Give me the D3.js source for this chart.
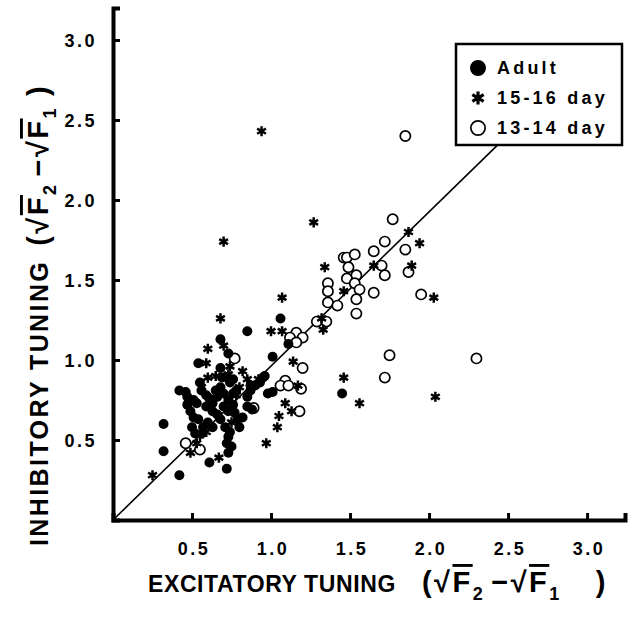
<!DOCTYPE html>
<html>
<head>
<meta charset="utf-8">
<script src="https://cdn.jsdelivr.net/npm/d3@7"></script>
<style>
  body { margin: 0; background: #fff; }
  text { font-family: "Liberation Sans", Arial, sans-serif; fill: #000; }
</style>
</head>
<body>
<div id="chart"></div>
<script>
// tick values
var xTicks = [0.5, 1.0, 1.5, 2.0, 2.5, 3.0];
var yTicks = [0.5, 1.0, 1.5, 2.0, 2.5, 3.0];

// diagonal reference line (data units)
var diagonal = [[0, 0], [2.43, 2.34]];

// Adult  [excitatory, inhibitory]
var adult = [
  [1.06,1.26],[0.85,1.18],[0.68,1.13],[0.73,1.04],[1.01,1.02],[1.11,1.10],[0.54,0.98],
  [0.68,0.95],[0.95,0.89],[0.93,0.86],[0.98,0.79],[1.01,0.80],[1.45,0.79],[0.32,0.60],
  [0.32,0.43],[0.61,0.36],[0.72,0.32],[0.42,0.28],[0.50,0.58],[0.52,0.54],[0.46,0.80],
  [0.47,0.77],[0.47,0.72],[0.49,0.68],[0.51,0.64],[0.54,0.63],[0.55,0.86],[0.56,0.81],
  [0.59,0.78],[0.61,0.76],[0.63,0.73],[0.59,0.71],[0.63,0.68],[0.66,0.66],[0.65,0.81],
  [0.68,0.83],[0.70,0.79],[0.66,0.77],[0.69,0.89],[0.72,0.89],[0.76,0.88],[0.74,0.86],
  [0.70,0.71],[0.73,0.75],[0.76,0.72],[0.73,0.68],[0.68,0.63],[0.71,0.58],[0.74,0.55],
  [0.73,0.52],[0.72,0.48],[0.76,0.79],[0.78,0.81],[0.77,0.67],[0.79,0.63],[0.80,0.58],
  [0.57,0.58],[0.60,0.61],[0.63,0.58],[0.75,0.46],[0.73,0.42],[0.85,0.77],[0.87,0.81],
  [0.85,0.71],[0.82,0.64],[0.90,0.84],[0.42,0.81],[0.96,0.90],[0.87,0.84],[0.88,0.69],
  [0.53,0.73],[0.51,0.75]
];

// 15-16 day
var day1516 = [
  [0.94,2.43],[0.70,1.74],[1.27,1.86],[1.87,1.80],[1.94,1.73],[1.89,1.59],[2.03,1.39],
  [1.34,1.58],[1.65,1.59],[1.46,1.43],[1.07,1.39],[1.32,1.26],[1.33,1.19],[1.00,1.18],
  [1.07,1.18],[0.68,1.26],[0.70,1.09],[0.60,1.07],[1.14,0.99],[0.59,0.98],[0.74,0.96],
  [0.65,0.90],[0.73,0.91],[0.82,0.93],[0.85,0.88],[0.92,0.88],[1.46,0.89],[1.56,0.73],
  [2.04,0.77],[1.17,0.84],[1.09,0.73],[1.13,0.68],[1.05,0.65],[1.04,0.58],[0.97,0.48],
  [0.25,0.28],[0.49,0.42],[0.53,0.48],[0.67,0.39],[0.56,0.54],[0.56,0.83],[0.60,0.89],
  [0.80,0.83],[0.78,0.78],[0.75,0.61],[0.55,0.53],[0.59,0.55]
];

// 13-14 day
var day1314 = [
  [1.85,2.40],[1.77,1.88],[1.85,1.69],[1.87,1.55],[1.95,1.41],[1.72,1.74],[1.65,1.68],
  [1.46,1.64],[1.48,1.64],[1.53,1.66],[1.49,1.58],[1.70,1.59],[1.72,1.53],[1.54,1.53],
  [1.48,1.51],[1.53,1.48],[1.56,1.44],[1.36,1.48],[1.36,1.43],[1.65,1.42],[1.54,1.38],
  [1.36,1.36],[1.42,1.34],[1.54,1.29],[1.29,1.24],[1.35,1.24],[1.16,1.17],[1.12,1.14],
  [1.20,1.14],[1.16,1.11],[0.77,1.01],[1.20,0.95],[1.75,1.03],[1.72,0.89],[2.30,1.01],
  [1.09,0.87],[1.06,0.84],[1.11,0.84],[1.19,0.82],[1.18,0.68],[0.89,0.70],[0.46,0.48],
  [0.55,0.44]
];

var legendItems = ["Adult", "15-16 day", "13-14 day"];

var width = 636, height = 621;

var svg = d3.select("#chart").append("svg")
  .attr("width", width)
  .attr("height", height);

var x = d3.scaleLinear().domain([0, 3.24]).range([113, 625]);
var y = d3.scaleLinear().domain([0, 3.2]).range([520, 8]);

// axes
var xAxis = svg.append("g")
  .attr("transform", "translate(0," + y(0) + ")")
  .call(d3.axisTop(x).tickValues(xTicks).tickSize(7).tickFormat(""));
var yAxis = svg.append("g")
  .attr("transform", "translate(" + x(0) + ",0)")
  .call(d3.axisRight(y).tickValues(yTicks).tickSize(7).tickFormat(""));

[xAxis, yAxis].forEach(function(a) {
  a.select(".domain").attr("stroke", "#000").attr("stroke-width", 4);
  a.selectAll(".tick line").attr("stroke", "#000").attr("stroke-width", 3);
});

// tick labels
svg.append("g").selectAll("text")
  .data(xTicks)
  .join("text")
  .attr("x", function(d) { return x(d) + 2; })
  .attr("y", 555)
  .attr("text-anchor", "middle")
  .attr("font-size", 18)
  .attr("font-weight", "bold")
  .attr("letter-spacing", 2.5)
  .text(function(d) { return d.toFixed(1); });

svg.append("g").selectAll("text")
  .data(yTicks)
  .join("text")
  .attr("x", 97)
  .attr("y", function(d) { return y(d) + 7; })
  .attr("text-anchor", "end")
  .attr("font-size", 18)
  .attr("font-weight", "bold")
  .attr("letter-spacing", 2.5)
  .text(function(d) { return d.toFixed(1); });

// identity line
svg.append("path")
  .datum(diagonal)
  .attr("fill", "none")
  .attr("stroke", "#000")
  .attr("stroke-width", 1.6)
  .attr("d", d3.line().x(function(d) { return x(d[0]); }).y(function(d) { return y(d[1]); }));

// points
var circleFilled = d3.symbol().type(d3.symbolCircle).size(78);
var circleOpen = d3.symbol().type(d3.symbolCircle).size(82);
var star = d3.symbol().type(d3.symbolAsterisk).size(72);

svg.append("g").selectAll("path")
  .data(day1314)
  .join("path")
  .attr("transform", function(d) { return "translate(" + x(d[0]) + "," + y(d[1]) + ")"; })
  .attr("d", circleOpen)
  .attr("fill", "#fff")
  .attr("stroke", "#000")
  .attr("stroke-width", 1.7);

svg.append("g").selectAll("path")
  .data(adult)
  .join("path")
  .attr("transform", function(d) { return "translate(" + x(d[0]) + "," + y(d[1]) + ")"; })
  .attr("d", circleFilled)
  .attr("fill", "#000");

svg.append("g").selectAll("path")
  .data(day1516)
  .join("path")
  .attr("transform", function(d) { return "translate(" + x(d[0]) + "," + y(d[1]) + ")"; })
  .attr("d", star)
  .attr("fill", "none")
  .attr("stroke", "#000")
  .attr("stroke-width", 2.5);

// legend
var lg = svg.append("g").attr("transform", "translate(456,44)");
lg.append("rect")
  .attr("width", 166).attr("height", 101)
  .attr("fill", "#fff").attr("stroke", "#000").attr("stroke-width", 2.5);

var legendRows = lg.selectAll("g.row")
  .data(legendItems)
  .join("g")
  .attr("class", "row")
  .attr("transform", function(d, i) { return "translate(22," + (24 + i * 30) + ")"; });

legendRows.append("path")
  .attr("d", function(d, i) {
    return i === 1 ? d3.symbol().type(d3.symbolAsterisk).size(120)()
         : d3.symbol().type(d3.symbolCircle).size(160)();
  })
  .attr("fill", function(d, i) { return i === 0 ? "#000" : i === 2 ? "#fff" : "none"; })
  .attr("stroke", "#000")
  .attr("stroke-width", function(d, i) { return i === 1 ? 3.2 : 1.7; });

legendRows.append("text")
  .attr("x", 19)
  .attr("y", 6)
  .attr("font-size", 18)
  .attr("font-weight", "bold")
  .attr("letter-spacing", 3.2)
  .text(function(d) { return d; });

// axis titles
var xt = svg.append("text")
  .attr("x", 148)
  .attr("y", 592)
  .attr("font-size", 23)
  .attr("font-weight", "bold")
  .attr("letter-spacing", 0.6);
xt.append("tspan").text("EXCITATORY TUNING");
appendRoot(xt, 26, 34);

var yt = svg.append("text")
  .attr("transform", "translate(48,546) rotate(-90)")
  .attr("font-size", 25)
  .attr("font-weight", "bold")
  .attr("letter-spacing", 2.4);
yt.append("tspan").text("INHIBITORY TUNING");
appendRoot(yt, 14, 10);

function appendRoot(t, gap, closeGap) {
  var g = t.append("tspan").attr("font-size", 29).attr("letter-spacing", 2.5);
  g.append("tspan").attr("dx", gap).text("(√");
  g.append("tspan").attr("text-decoration", "overline").text("F");
  g.append("tspan").attr("font-size", 18).attr("dy", 8).text("2");
  g.append("tspan").attr("dy", -8).attr("dx", 6).text("−√");
  g.append("tspan").attr("text-decoration", "overline").text("F");
  g.append("tspan").attr("font-size", 18).attr("dy", 8).text("1");
  g.append("tspan").attr("dy", -8).attr("dx", closeGap).text(")");
}
</script>
</body>
</html>
